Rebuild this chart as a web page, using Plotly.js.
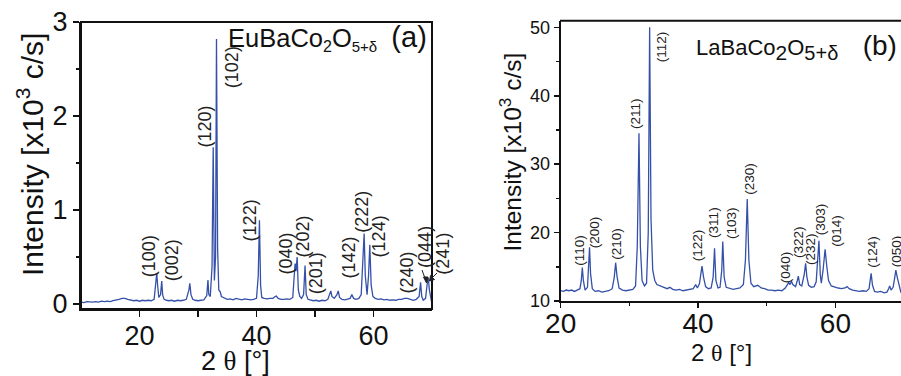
<!DOCTYPE html>
<html><head><meta charset="utf-8">
<script src="https://cdn.plot.ly/plotly-3.0.1.min.js"></script>
<style>html,body{margin:0;padding:0;background:#fff;}#chart{width:901px;height:376px;}</style>
</head><body><div id="chart"></div>
<script>
// Panel (a) EuBaCo2O5+d : 2theta (deg) and intensity (x10^3 c/s)
const euTheta = [10.0,10.5,11,11.5,12,12.5,13,13.5,14,14.5,15,15.5,16,16.5,17,17.5,18,18.5,19,19.5,20,20.5,21,21.5,22,22.5,22.8,22.95,23.1,23.3,23.6,23.8,23.95,24.2,24.6,25,25.5,26,26.5,27,27.5,28,28.45,28.6,28.8,29.1,29.5,30,30.5,31,31.5,31.7,31.85,32.1,32.4,32.6,32.8,33.0,33.16,33.35,33.55,33.8,34.0,34.3,34.6,35,35.5,36,36.5,37,37.5,38,38.5,39,39.5,40.0,40.3,40.5,40.7,40.9,41.3,41.8,42.3,42.8,43.2,43.4,43.7,44.2,44.7,45.2,45.7,46.2,46.45,46.6,46.75,46.95,47.15,47.4,47.7,48.05,48.3,48.5,48.8,49.2,49.7,50.2,50.7,51.2,51.7,52.2,52.5,52.7,52.9,53.3,53.75,53.97,54.2,54.6,55.1,55.6,56.0,56.3,56.6,57,57.5,57.9,58.2,58.4,58.6,58.9,59.15,59.37,59.6,59.9,60.3,60.8,61.3,61.8,62.3,62.8,63.3,63.8,64.3,64.8,65.3,65.8,66.3,66.8,67.3,67.8,68.05,68.25,68.5,68.9,69.15,69.36,69.55,69.8,70.0];
const euInt = [0.02,0.015,0.025,0.02,0.02,0.025,0.02,0.03,0.025,0.03,0.025,0.035,0.04,0.05,0.06,0.06,0.05,0.04,0.035,0.04,0.03,0.04,0.035,0.04,0.035,0.05,0.25,0.33,0.2,0.07,0.1,0.245,0.1,0.05,0.04,0.035,0.04,0.03,0.04,0.035,0.04,0.05,0.15,0.22,0.1,0.05,0.04,0.035,0.04,0.045,0.09,0.255,0.1,0.08,0.4,1.667,0.25,0.5,2.82,0.6,0.15,0.13,0.08,0.07,0.06,0.05,0.055,0.045,0.06,0.05,0.045,0.055,0.05,0.045,0.05,0.06,0.3,0.89,0.2,0.07,0.06,0.055,0.06,0.06,0.08,0.085,0.06,0.05,0.05,0.055,0.05,0.07,0.3,0.43,0.35,0.5,0.15,0.08,0.06,0.1,0.41,0.1,0.05,0.04,0.035,0.04,0.03,0.04,0.035,0.05,0.1,0.14,0.08,0.06,0.1,0.14,0.07,0.05,0.045,0.05,0.06,0.1,0.06,0.05,0.06,0.1,0.45,0.75,0.3,0.1,0.3,0.63,0.2,0.08,0.06,0.05,0.055,0.045,0.05,0.04,0.045,0.04,0.05,0.05,0.06,0.06,0.05,0.04,0.05,0.08,0.23,0.08,0.04,0.06,0.2,0.28,0.15,0.05,0.0];
const euLabels = ['(100)','(002)','(120)','(102)','(122)','(040)','(202)','(201)','(142)','(222)','(124)','(240)','(044)'];
const euLabelX = [21.53,25.50,31.17,35.71,38.83,45.07,47.91,50.18,55.85,58.13,60.95,65.79,68.90];
const euLabelY = [0.514,0.461,1.886,2.524,0.886,0.539,0.716,0.327,0.497,0.976,0.720,0.340,0.603];

// Panel (b) LaBaCo2O5+d
const laTheta = [20.0,20.4,20.8,21.2,21.6,22.0,22.4,22.8,23.0,23.15,23.3,23.55,23.9,24.05,24.2,24.35,24.6,25.0,25.5,26.0,26.5,27.0,27.5,27.8,28.0,28.2,28.5,29.0,29.5,30.0,30.5,30.9,31.15,31.4,31.6,31.85,32.2,32.5,32.75,32.95,33.15,33.4,33.7,34.0,34.5,35.0,35.5,35.9,36.3,36.8,37.3,37.8,38.3,38.8,39.3,39.65,39.9,40.2,40.4,40.57,40.8,41.1,41.5,41.9,42.2,42.4,42.6,42.9,43.2,43.45,43.6,43.8,44.1,44.6,45.1,45.6,46.1,46.6,46.9,47.16,47.4,47.7,48.1,48.7,49.2,49.7,50.2,50.7,51.2,51.7,52.2,52.7,53.0,53.2,53.4,53.6,53.8,54.2,54.45,54.6,54.8,55.1,55.45,55.66,55.85,56.1,56.5,56.9,57.2,57.45,57.6,57.8,57.95,58.2,58.5,58.75,59.0,59.4,59.9,60.4,60.9,61.4,61.7,62.0,62.5,63.0,63.5,64.0,64.5,64.9,65.05,65.2,65.4,65.7,66.1,66.6,67.1,67.5,67.75,67.9,68.1,68.4,68.6,68.8,69.0,69.3,69.55];
const laInt = [11.5,11.4,11.6,11.5,11.6,11.4,11.6,11.8,13.0,14.9,13.0,11.6,12.0,15.5,17.85,14.0,11.8,11.4,11.5,11.3,11.4,11.5,11.8,13.5,15.6,13.6,11.9,11.6,11.5,11.6,11.7,12.2,18.0,34.5,18.0,13.0,12.2,12.6,20.0,50.0,22.0,14.5,13.0,12.4,12.2,11.9,11.8,12.0,11.7,11.6,11.7,11.5,11.6,11.6,11.8,12.4,11.9,12.5,14.0,15.1,13.5,12.1,11.8,11.9,13.5,17.7,13.0,11.9,12.0,14.5,18.7,13.5,12.0,11.8,11.7,11.8,11.9,12.4,16.0,24.9,16.0,12.6,12.1,12.3,11.9,11.8,11.6,11.6,11.5,11.6,11.5,11.9,12.5,12.7,12.4,12.9,12.4,12.1,13.0,13.65,12.4,12.2,13.8,15.5,13.5,12.3,12.0,12.1,12.8,16.5,18.8,13.8,12.6,14.5,17.55,15.0,13.0,12.2,12.0,11.9,11.8,11.9,12.1,11.8,11.6,11.5,11.4,11.5,11.4,11.8,13.0,14.05,12.3,11.4,11.3,11.4,11.2,11.3,11.8,12.2,11.6,12.0,13.2,14.5,13.5,12.0,11.2];
const laLabels = ['(110)','(200)','(210)','(211)','(112)','(122)','(311)','(103)','(230)','(040)','(322)','(232)','(303)','(014)','(124)','(050)'];
const laLabelX = [22.81,24.85,28.01,30.92,34.70,39.94,42.21,44.89,47.55,52.65,54.59,56.29,57.74,60.17,65.41,68.91];
const laLabelY = [17.35,20.04,18.33,37.44,47.18,18.08,21.45,21.36,27.84,14.93,18.67,17.60,21.94,20.19,17.12,17.21];

const FONT = 'Liberation Sans, Arial, sans-serif';
const LINE = '#3550a8';
const W = 901, H = 376;
const px = v => v / W, py = v => 1 - v / H;
const NB = '\u00a0';

const traces = [
  {x: euTheta, y: euInt, xaxis: 'x', yaxis: 'y', type: 'scatter', mode: 'lines', line: {color: LINE, width: 1.3}, hoverinfo: 'skip'},
  {x: laTheta, y: laInt, xaxis: 'x2', yaxis: 'y2', type: 'scatter', mode: 'lines', line: {color: LINE, width: 1.3}, hoverinfo: 'skip'}
];

const ann = [];
euLabels.forEach((t, i) => ann.push({xref: 'x', yref: 'y', x: euLabelX[i], y: euLabelY[i], text: t, textangle: -90, showarrow: false, xanchor: 'center', yanchor: 'middle', font: {family: FONT, size: 18, color: '#222'}}));
ann.push({xref: 'paper', yref: 'y', x: px(443.3), y: 0.539, text: '(241)', textangle: -90, showarrow: false, xanchor: 'center', yanchor: 'middle', font: {family: FONT, size: 18, color: '#222'}});
laLabels.forEach((t, i) => ann.push({xref: 'x2', yref: 'y2', x: laLabelX[i], y: laLabelY[i], text: t, textangle: -90, showarrow: false, xanchor: 'center', yanchor: 'middle', font: {family: FONT, size: 13.5, color: '#222'}}));

// compound names
ann.push({xref: 'paper', yref: 'paper', x: px(429), y: py(38), xanchor: 'right', yanchor: 'middle', showarrow: false,
  text: 'EuBaCo<sub><span style="font-size:16px">2</span></sub>O<sub><span style="font-size:15px">5+δ</span></sub>' + NB + NB + '<span style="font-size:29px">(a)</span>',
  font: {family: FONT, size: 25.5, color: '#111'}});
ann.push({xref: 'paper', yref: 'paper', x: px(899), y: py(47), xanchor: 'right', yanchor: 'middle', showarrow: false,
  text: 'LaBaCo<sub><span style="font-size:21px">2</span></sub>O<sub><span style="font-size:20px">5+δ</span></sub>' + NB + NB + NB + NB + '<span style="font-size:28px">(b)</span>',
  font: {family: FONT, size: 22, color: '#111'}});

// axis titles
ann.push({xref: 'paper', yref: 'paper', x: px(30), y: py(155), xanchor: 'center', yanchor: 'middle', textangle: -90, showarrow: false,
  text: 'Intensity [x10<sup>3</sup> c/s]', font: {family: FONT, size: 30, color: '#111'}});
ann.push({xref: 'paper', yref: 'paper', x: px(510), y: py(152.5), xanchor: 'center', yanchor: 'middle', textangle: -90, showarrow: false,
  text: 'Intensity [x10<sup>3</sup> c/s]', font: {family: FONT, size: 24.5, color: '#111'}});
ann.push({xref: 'paper', yref: 'paper', x: px(235.5), y: py(361), xanchor: 'center', yanchor: 'middle', showarrow: false,
  text: '2 <span style="font-family:Liberation Serif">θ</span> [°]', font: {family: FONT, size: 27, color: '#111'}});
ann.push({xref: 'paper', yref: 'paper', x: px(721.7), y: py(352), xanchor: 'center', yanchor: 'middle', showarrow: false,
  text: '2 <span style="font-family:Liberation Serif">θ</span> [°]', font: {family: FONT, size: 24, color: '#111'}});

const axBase = {showgrid: false, zeroline: false, showline: true, linecolor: '#111', linewidth: 2, ticks: 'outside', tickcolor: '#111', tickwidth: 1.5, color: '#111'};

const shapes = [
  // frame of panel (a), top edge of panel (b)
  {type: 'rect', xref: 'paper', yref: 'paper', x0: px(81), x1: px(432), y0: py(309), y1: py(22), line: {color: '#111', width: 2}, fillcolor: 'rgba(0,0,0,0)', layer: 'above'},
  {type: 'line', xref: 'paper', yref: 'paper', x0: px(560), x1: 1, y0: py(20.7), y1: py(20.7), line: {color: '#111', width: 2}},
  // small arrows pointing to (044) and (241) peaks
  {type: 'line', xref: 'paper', yref: 'paper', x0: px(422), y0: py(270), x1: px(426), y1: py(281), line: {color: '#222', width: 1}},
  {type: 'path', xref: 'paper', yref: 'paper', path: 'M ' + px(426.5) + ' ' + py(283) + ' L ' + px(423.5) + ' ' + py(277) + ' L ' + px(428) + ' ' + py(277) + ' Z', fillcolor: '#222', line: {color: '#222', width: 1}},
  {type: 'line', xref: 'paper', yref: 'paper', x0: px(437), y0: py(273), x1: px(431), y1: py(279), line: {color: '#222', width: 1}},
  {type: 'path', xref: 'paper', yref: 'paper', path: 'M ' + px(429.5) + ' ' + py(281) + ' L ' + px(430.5) + ' ' + py(275.5) + ' L ' + px(434.5) + ' ' + py(279.5) + ' Z', fillcolor: '#222', line: {color: '#222', width: 1}}
];

const layout = {
  width: W, height: H, margin: {l: 0, r: 0, t: 0, b: 0}, paper_bgcolor: '#fff', plot_bgcolor: '#fff', showlegend: false,
  font: {family: FONT, color: '#111'},
  xaxis: Object.assign({}, axBase, {domain: [px(81), px(432)], range: [10, 70], tickvals: [20, 40, 60], ticklen: 6, ticklabelstandoff: -4,
    minor: {tickvals: [30, 50], ticklen: 6, ticks: 'outside', tickcolor: '#111'}, tickfont: {size: 27}, anchor: 'y'}),
  yaxis: Object.assign({}, axBase, {domain: [py(309), py(22)], range: [-0.053, 3.0], tickvals: [0, 1, 2, 3], ticklen: 6,
    minor: {tickvals: [0.5, 1.5, 2.5], ticklen: 3, ticks: 'outside', tickcolor: '#111'}, tickfont: {size: 27}, anchor: 'x'}),
  xaxis2: Object.assign({}, axBase, {domain: [px(560.7), 1], range: [20, 69.55], tickvals: [20, 40, 60], ticklen: 5, ticklabelstandoff: -9,
    minor: {tickvals: [30, 50], ticklen: 3, ticks: 'outside', tickcolor: '#111'}, tickfont: {size: 28}, anchor: 'y2'}),
  yaxis2: Object.assign({}, axBase, {domain: [py(301), py(20.7)], range: [10, 50.97], tickvals: [10, 20, 30, 40, 50], ticklen: 5,
    minor: {tickvals: [15, 25, 35, 45], ticklen: 3, ticks: 'outside', tickcolor: '#111'}, tickfont: {size: 18}, anchor: 'x2'}),
  shapes: shapes,
  annotations: ann
};

Plotly.newPlot('chart', traces, layout, {staticPlot: true, displayModeBar: false});
</script></body></html>
